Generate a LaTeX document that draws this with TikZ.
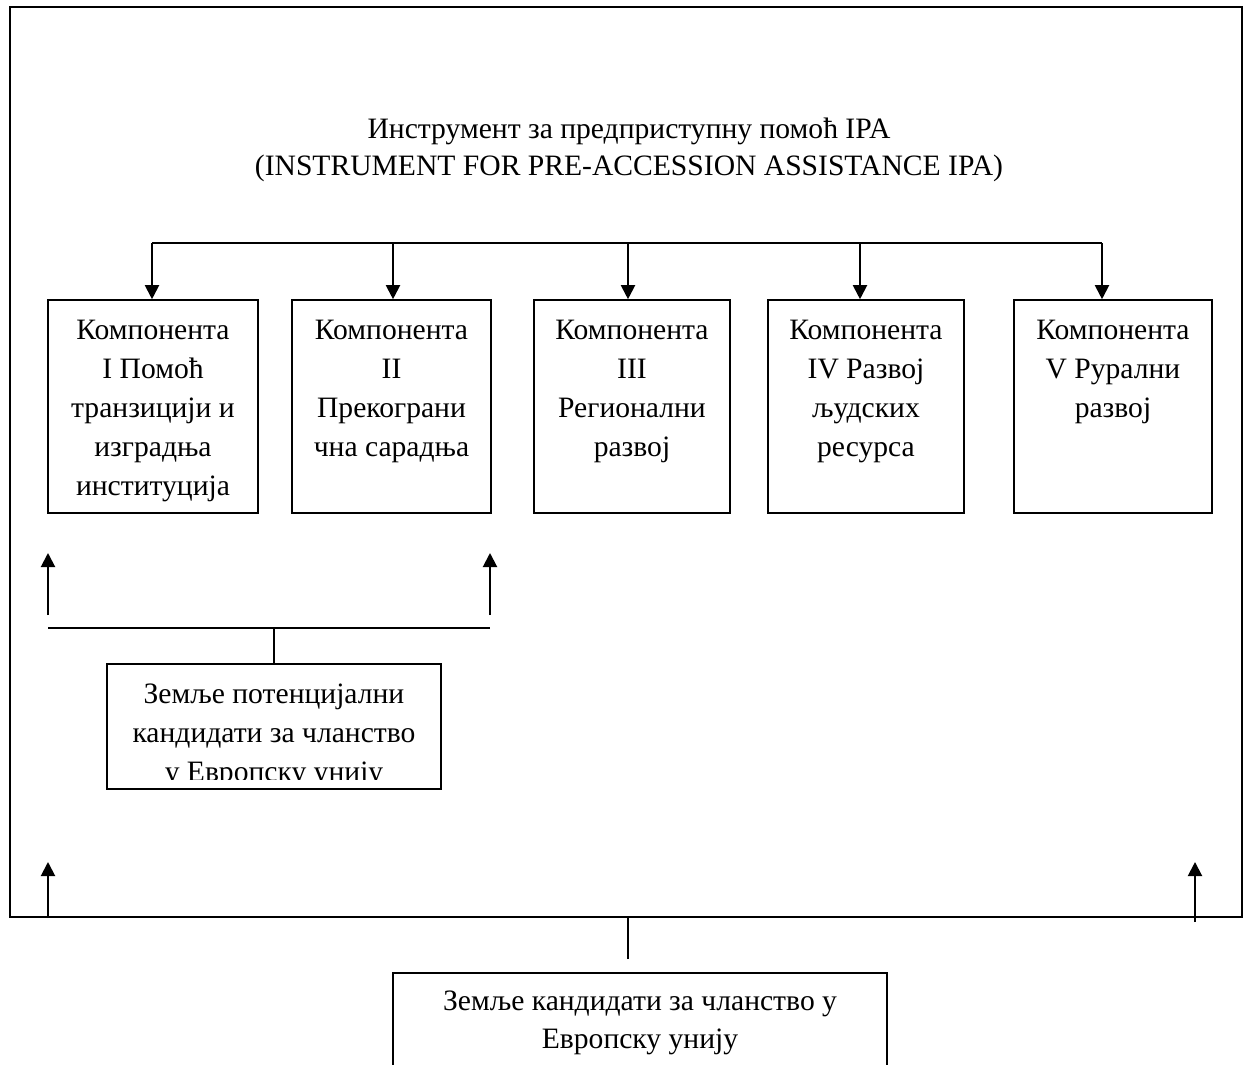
\documentclass[tikz,border=0pt]{standalone}
\usepackage{fontspec}
\setmainfont{Liberation Serif}
\usetikzlibrary{arrows.meta}
\usetikzlibrary{positioning}
\tikzset{compbox/.style={draw=black,line width=0.8pt,inner sep=0pt}}
\tikzset{comptext/.style={align=center,inner sep=0pt,font=\fontsize{14.8}{19.5}\selectfont}}
\tikzset{link/.style={line width=1pt,-{Triangle[width=7pt,length=7pt]}}}
\tikzset{bar/.style={line width=1pt}}

\begin{document}
\begin{tikzpicture}[x=0.5pt,y=-0.5pt]
\useasboundingbox (0,0) rectangle (1248,1065);
\clip (0,0) rectangle (1248,1065);
% outer frame
\node[draw=black,line width=1pt,inner sep=0pt,minimum width=616pt,minimum height=455pt] (frame) at (626,462) {};
\node[comptext] (title) at (629,131) {Инструмент за предприступну помоћ IPA};
\node[comptext] (subtitle) at (629,168) {(INSTRUMENT FOR PRE-ACCESSION ASSISTANCE IPA)};

\foreach \i/\l/\r/\ax/\txt in {1/48/258/152/{Компонента\\I Помоћ\\транзицији и\\изградња\\институција},
	2/292/491/393/{Компонента\\II\\Прекограни\\чна сарадња},
	3/534/730/628/{Компонента\\III\\Регионални\\развој},
	4/768/964/860/{Компонента\\IV Развој\\људских\\ресурса},
	5/1014/1212/1102/{Компонента\\V Рурални\\развој}} {
	\node[compbox,minimum width={0.5pt*(\r-\l)},minimum height=106.5pt] (C\i) at ({(\l+\r)/2},406.5) {};
	\node[comptext,below=10.5pt of C\i.north] (T\i) {\txt};
	\coordinate (a\i) at (\ax,243);
	\draw[link] (a\i) -- (a\i |- C\i.north);
}
\draw[bar] (a1) -- (a5);

% potential candidates
\node[compbox,minimum width=167pt,minimum height=62.5pt] (P) at (274,726.5) {};
\begin{scope}
\clip (107,664) rectangle (441,779);
\node[comptext,below=10pt of P.north] (PT) {Земље потенцијални\\кандидати за чланство\\у Европску унију};
\end{scope}
\coordinate (pl) at (48,628);
\coordinate (pr) at (490,628);
\draw[bar] (pl) -- (pr);
\draw[bar] (P.north) -- (P.north |- pl);
\coordinate (ul) at (48,615);
\coordinate (ur) at (490,615);
\draw[link] (ul) -- ++(0,-62);
\draw[link] (ur) -- ++(0,-62);

% candidates
\node[compbox,minimum width=247pt,minimum height=80pt,anchor=north] (K) at (640,972) {};
\node[comptext,below=9pt of K.north,font=\fontsize{14.8}{19}\selectfont] (KT) {Земље кандидати за чланство у\\Европску унију};
\coordinate (kb) at (628,959);
\draw[line width=0.6pt] (kb) -- (kb |- frame.south);
\coordinate (bl) at (48,918);
\coordinate (br) at (1195,922);
\draw[link] (bl) -- (48,862);
\draw[link] (br) -- (1195,862);
\end{tikzpicture}
\end{document}
